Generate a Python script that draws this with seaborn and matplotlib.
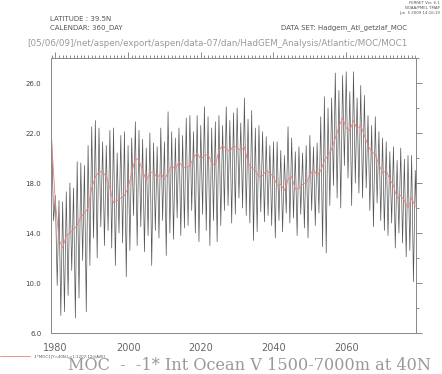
import matplotlib
matplotlib.use('Agg')
import matplotlib.pyplot as plt
import seaborn as sns
import pandas as pd
from matplotlib.ticker import MultipleLocator, FormatStrFormatter

# values
years = list(range(1979, 2080))

seasonal_high = [
    21.5, 17.0, 16.6, 16.5, 17.3, 18.0, 17.6, 19.7, 19.6, 19.4,
    21.0, 22.5, 23.0, 22.4, 21.3, 21.0, 22.2, 22.4, 20.4, 21.8,
    22.1, 21.0, 21.6, 22.9, 22.2, 21.5, 20.8, 22.0, 21.2, 20.9,
    22.4, 21.3, 23.7, 22.1, 21.6, 22.4, 21.8, 23.2, 23.4, 22.1,
    23.4, 22.6, 24.1, 23.3, 22.4, 22.9, 23.4, 22.6, 24.1, 23.0,
    23.6, 24.0, 22.8, 24.8, 23.1, 23.8, 22.4, 22.6, 22.1, 21.7,
    21.0, 21.3, 21.3, 20.6, 20.2, 22.5, 21.6, 20.5, 20.9, 20.4,
    21.0, 21.8, 20.9, 21.2, 23.3, 24.9, 24.0, 24.8, 26.8, 25.4,
    26.6, 26.9, 25.3, 26.9, 24.8, 25.8, 25.0, 23.4, 22.6, 23.3,
    22.1, 21.6, 21.3, 20.5, 20.9, 19.8, 20.8, 19.9, 20.2, 20.2,
    19.0,
]

seasonal_low = [
    15.0, 9.8, 7.4, 7.7, 9.0, 11.0, 7.2, 8.8, 11.8, 7.7,
    11.4, 13.6, 12.0, 14.5, 13.0, 14.2, 12.8, 11.4, 14.0, 13.2,
    10.5, 12.6, 15.4, 13.0, 14.5, 12.5, 13.8, 11.4, 14.2, 13.6,
    15.0, 12.2, 14.0, 13.5, 15.2, 13.8, 14.4, 14.6, 15.8, 14.0,
    13.3, 15.5, 14.2, 13.0, 15.0, 13.3, 14.6, 15.8, 16.2, 14.8,
    15.5, 16.8, 16.0, 15.4, 14.8, 13.4, 14.1, 15.7, 14.9, 15.4,
    14.6, 13.6, 15.0, 14.1, 15.6, 14.8, 15.2, 13.8, 15.5, 14.4,
    13.6, 15.8, 14.6, 15.6, 12.9, 12.4, 16.2, 17.8, 16.8, 16.0,
    19.4, 18.4, 16.2, 18.0, 17.2, 16.8, 17.6, 15.8, 14.5, 16.4,
    15.0, 14.2, 13.8, 14.8, 12.8, 14.0, 13.2, 12.1, 12.6, 10.1,
    13.7,
]

annual_mean = [
    21.2, 16.5, 13.5, 12.8, 13.8, 14.0, 14.3, 14.6, 15.3, 15.6,
    16.0, 17.6, 18.5, 18.9, 18.9, 18.5, 17.6, 16.4, 16.6, 16.8,
    17.0, 17.6, 18.8, 20.0, 19.8, 19.0, 18.2, 18.8, 18.9, 18.4,
    18.8, 18.3, 18.8, 19.4, 19.1, 19.7, 19.3, 19.2, 19.4, 20.0,
    20.4, 19.9, 20.2, 20.3, 19.6, 19.4, 20.6, 21.0, 20.7, 20.5,
    21.0, 20.8, 20.6, 20.9, 19.6, 19.2, 19.0, 18.5, 18.6, 19.0,
    18.8, 18.5, 17.8, 17.9, 17.4, 18.3, 18.5, 17.5, 17.6, 17.9,
    18.0, 18.6, 19.1, 18.6, 19.0, 19.8, 20.2, 20.7, 21.6, 22.5,
    23.2, 22.4, 22.2, 23.0, 22.3, 22.6, 21.8, 21.0, 20.5, 20.3,
    19.5, 18.8, 19.0, 18.3, 17.8, 16.8, 17.0, 16.6, 16.0, 16.8,
    16.1,
]

sns.set_style('white')
plt.rcParams['font.family'] = ['DejaVu Sans']

# the monthly curve swings between a high and a low every year
rows = []
for y, h, l in zip(years, seasonal_high, seasonal_low):
    rows.append((y + 0.0, h))
    rows.append((y + 0.5, l))
monthly = pd.DataFrame(rows, columns=['time', 'moc'])
annual = pd.DataFrame({'time': years, 'moc': annual_mean})

W, H = 442, 374
fig = plt.figure(figsize=(W / 100, H / 100), dpi=100)
ax = fig.add_axes([51 / W, 1 - 333 / H, 365 / W, 275 / H])

sns.lineplot(data=monthly, x='time', y='moc', color='#555555', lw=0.5, ax=ax)
sns.lineplot(data=annual, x='time', y='moc', color='#ee8080', lw=0.6, ax=ax)

ax.set_xlim(1978.8, 2079.2)
ax.set_ylim(6, 28)
ax.set_xlabel('')
ax.set_ylabel('')

ax.xaxis.set_major_locator(MultipleLocator(20))
ax.xaxis.set_minor_locator(MultipleLocator(1))
ax.yaxis.set_major_locator(MultipleLocator(4))
ax.yaxis.set_minor_locator(MultipleLocator(2))
ax.yaxis.set_major_formatter(FormatStrFormatter('%.1f'))

ax.tick_params(which='both', direction='out', color='#777', width=0.6,
               top=True, right=True, labeltop=False, labelright=False)
ax.tick_params(which='major', length=4)
ax.tick_params(which='minor', length=2)
ax.tick_params(axis='x', labelsize=7, labelcolor='#666', pad=3)
ax.tick_params(axis='y', labelsize=5, labelcolor='#444', pad=3)
ax.set_yticks([6, 10, 14, 18, 22, 26])
for s in ax.spines.values():
    s.set_color('#888')
    s.set_linewidth(0.7)

def px(x, y):
    return x / W, 1 - y / H

# header texts
fig.text(*px(440, 3), 'FERRET Ver. 6.1', fontsize=2.8, color='#555', ha='right', va='center')
fig.text(*px(440, 8), 'NOAA/PMEL TMAP', fontsize=2.8, color='#555', ha='right', va='center')
fig.text(*px(440, 13), 'Jun  5 2009 14:16:19', fontsize=2.8, color='#555', ha='right', va='center')
fig.text(*px(50, 19), 'LATITUDE : 39.5N', fontsize=5, color='#555', va='center')
fig.text(*px(50, 28), 'CALENDAR: 360_DAY', fontsize=5, color='#555', va='center')
fig.text(*px(407, 28), 'DATA SET: Hadgem_Atl_getzlaf_MOC', fontsize=5, color='#555',
         ha='right', va='center')
fig.text(*px(27, 43),
         '[05/06/09]/net/aspen/export/aspen/data-07/dan/HadGEM_Analysis/Atlantic/MOC/MOC1',
         fontsize=6.3, color='#999', va='center')

# legend and title at the bottom
fig.add_artist(plt.Line2D([0, 30 / W], [1 - 356 / H] * 2, color='#ee8080', lw=0.6))
fig.text(*px(34, 356), '-1*MOC1[Y=40N,L=1:1207:12@AVE]', fontsize=2.8, color='#555', va='center')
fig.text(*px(250, 366), 'MOC  -  -1* Int Ocean V 1500-7000m at 40N', fontsize=11.6,
         family='DejaVu Serif', color='#999', ha='center', va='center')

fig.savefig('out.png', dpi=100)
